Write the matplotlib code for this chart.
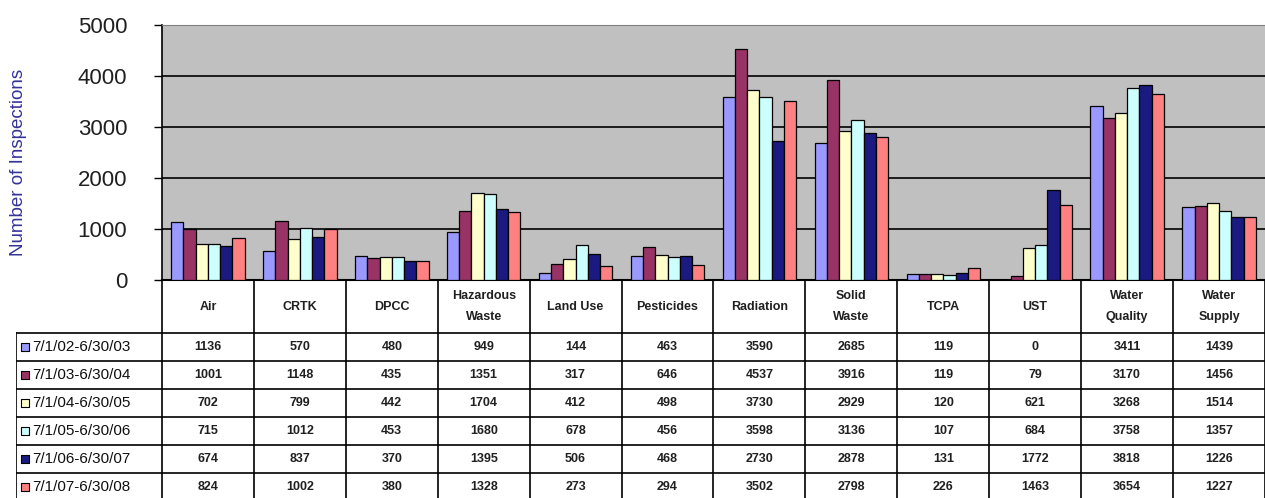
import matplotlib.pyplot as plt
import numpy as np

# Inspection counts by program and fiscal year
programs = ['Air', 'CRTK', 'DPCC', 'Hazardous\nWaste', 'Land Use', 'Pesticides',
            'Radiation', 'Solid\nWaste', 'TCPA', 'UST', 'Water\nQuality', 'Water\nSupply']
periods = ['7/1/02-6/30/03', '7/1/03-6/30/04', '7/1/04-6/30/05',
           '7/1/05-6/30/06', '7/1/06-6/30/07', '7/1/07-6/30/08']

fy03 = [1136, 570, 480, 949, 144, 463, 3590, 2685, 119, 0, 3411, 1439]
fy04 = [1001, 1148, 435, 1351, 317, 646, 4537, 3916, 119, 79, 3170, 1456]
fy05 = [702, 799, 442, 1704, 412, 498, 3730, 2929, 120, 621, 3268, 1514]
fy06 = [715, 1012, 453, 1680, 678, 456, 3598, 3136, 107, 684, 3758, 1357]
fy07 = [674, 837, 370, 1395, 506, 468, 2730, 2878, 131, 1772, 3818, 1226]
fy08 = [824, 1002, 380, 1328, 273, 294, 3502, 2798, 226, 1463, 3654, 1227]
series = [fy03, fy04, fy05, fy06, fy07, fy08]

colors = ['#9999ff', '#993366', '#ffffcc', '#ccffff', '#1a1a80', '#ff8080']

W, H = 1265, 498
fig = plt.figure(figsize=(W / 100, H / 100), dpi=100)

# plot area in pixels
left, right, top, bottom = 162, 1265, 25, 280
ax = fig.add_axes([left / W, (H - bottom) / H, (right - left) / W, (bottom - top) / H])
ax.set_facecolor('#c0c0c0')

n = len(programs)
x = np.arange(n)
bw = 0.8 / len(series)
for i, vals in enumerate(series):
    ax.bar(x - 0.4 + bw * (i + 0.5), vals, bw, color=colors[i],
           edgecolor='black', linewidth=0.9, zorder=3)

ax.set_xlim(-0.5, n - 0.5)
ax.set_ylim(0, 5000)
ax.set_yticks(range(0, 5001, 1000))
ax.set_xticks([])
ax.grid(axis='y', color='black', linewidth=1.2, zorder=1)
ax.tick_params(axis='y', length=6, width=1, pad=19, labelsize=16, labelcolor='#202020')
for lab in ax.get_yticklabels():
    lab.set_family('Liberation Sans')
ax.spines['right'].set_visible(False)
ax.spines['top'].set_color('#808080')
ax.spines['left'].set_linewidth(1.2)
ax.spines['bottom'].set_linewidth(1.5)
ax.set_ylabel('Number of Inspections', color='#333399', fontsize=13.5,
              family='Liberation Sans')
ax.yaxis.set_label_coords((27 - left) / (right - left), (bottom - 162) / (bottom - top))

# data table below the plot, x in category units, y in pixels from the axis
tleft = 16
cat_w = (right - left) / n
x0 = -0.5 - (left - tleft) / cat_w
tax = fig.add_axes([tleft / W, 0, (right - tleft) / W, (H - bottom) / H])
tax.set_xlim(x0, n - 0.5)
tax.set_ylim(H - bottom, 0)
tax.axis('off')

head_h, row_h = 53, 28
lw = 1.2
for k in range(n + 1):
    tax.plot([k - 0.5, k - 0.5], [0, H - bottom], color='black', lw=lw)
tax.plot([x0, x0], [head_h, H - bottom], color='black', lw=lw)
for r in range(len(periods) + 1):
    yy = head_h + r * row_h
    tax.plot([x0, n - 0.5], [yy, yy], color='black', lw=lw)

for j, name in enumerate(programs):
    tax.text(j, head_h / 2, name, ha='center', va='center', fontsize=9,
             family='Liberation Sans', weight='bold', color='#202020',
             linespacing=1.9)

for r, (per, vals) in enumerate(zip(periods, series)):
    yc = head_h + r * row_h + row_h / 2
    tax.scatter([x0 + 0.1], [yc], marker='s', s=30, color=colors[r],
                edgecolor='black', linewidth=0.8, zorder=3)
    tax.text(x0 + 0.18, yc, per, ha='left', va='center', fontsize=11,
             family='Liberation Sans', color='#101010')
    for j, v in enumerate(vals):
        tax.text(j, yc, str(v), ha='center', va='center', fontsize=9,
                 family='Liberation Sans', weight='bold', color='#202020')

fig.savefig('out.png', dpi=100)
